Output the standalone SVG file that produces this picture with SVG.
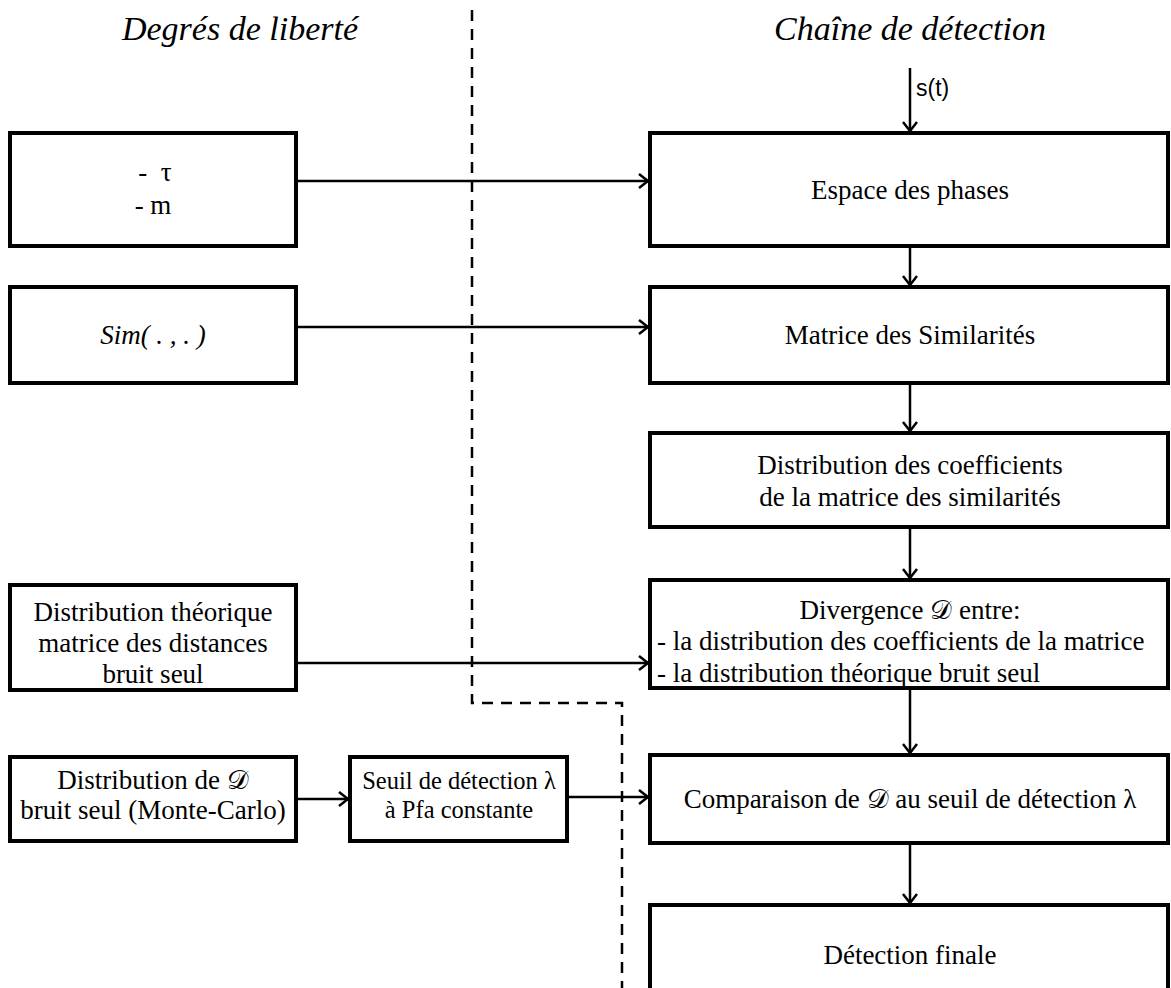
<svg xmlns="http://www.w3.org/2000/svg" width="1171" height="988" viewBox="0 0 1171 988">
<style>
.box{fill:#fff;stroke:#000;stroke-width:4}
.t{font-family:"Liberation Serif","Times New Roman",serif;font-size:27px;fill:#000;text-anchor:middle}
.l{font-family:"Liberation Serif","Times New Roman",serif;font-size:27px;fill:#000;text-anchor:start}
.h{font-family:"Liberation Serif","Times New Roman",serif;font-size:34px;font-style:italic;fill:#000;text-anchor:middle}
.c{fill:none;stroke:#000;stroke-width:2.5}
.dash{fill:none;stroke:#000;stroke-width:2.5;stroke-dasharray:11,8}
.s{font-family:"Liberation Sans",Arial,sans-serif;font-size:23px;fill:#000}
</style>
<defs>
<marker id="arr" markerWidth="12" markerHeight="16" refX="10" refY="8" orient="auto" markerUnits="userSpaceOnUse">
<path d="M1,1 L10,8 L1,15" fill="none" stroke="#000" stroke-width="2.5"/>
</marker>
</defs>
<rect width="1171" height="988" fill="#fff"/>
<text class="h" x="240" y="40">Degrés de liberté</text>
<text class="h" x="910" y="40">Chaîne de détection</text>
<path class="dash" d="M472,10 V703 H622 V988"/>
<g id="connectors">
<line class="c" x1="910" y1="68" x2="910" y2="131" marker-end="url(#arr)"/>
<line class="c" x1="296" y1="181" x2="648" y2="181" marker-end="url(#arr)"/>
<line class="c" x1="910" y1="246" x2="910" y2="285" marker-end="url(#arr)"/>
<line class="c" x1="296" y1="327" x2="648" y2="327" marker-end="url(#arr)"/>
<line class="c" x1="910" y1="383" x2="910" y2="431" marker-end="url(#arr)"/>
<line class="c" x1="910" y1="527" x2="910" y2="578" marker-end="url(#arr)"/>
<line class="c" x1="296" y1="663" x2="648" y2="663" marker-end="url(#arr)"/>
<line class="c" x1="910" y1="688" x2="910" y2="753" marker-end="url(#arr)"/>
<line class="c" x1="296" y1="799" x2="348" y2="799" marker-end="url(#arr)"/>
<line class="c" x1="567" y1="797" x2="648" y2="797" marker-end="url(#arr)"/>
<line class="c" x1="910" y1="843" x2="910" y2="903" marker-end="url(#arr)"/>
<text class="s" x="916" y="96">s(t)</text>
</g>
<g id="n_taum"><rect class="box" x="10" y="133" width="286" height="113"/><text class="t" x="155" y="181">-&#160; τ</text><text class="t" x="153" y="214">- m</text></g>
<g id="n_sim"><rect class="box" x="10" y="287" width="286" height="96"/><text class="t" x="153" y="344" font-style="italic">Sim( . , . )</text></g>
<g id="n_disttheo"><rect class="box" x="10" y="585" width="286" height="105"/><text class="t" x="153" y="621">Distribution théorique</text><text class="t" x="153" y="652">matrice des distances</text><text class="t" x="153" y="683">bruit seul</text></g>
<g id="n_distD"><rect class="box" x="10" y="757" width="286" height="84"/><text class="t" x="153" y="789">Distribution de 𝒟</text><text class="t" x="153" y="819">bruit seul (Monte-Carlo)</text></g>
<g id="n_seuil"><rect class="box" x="350" y="757" width="217" height="84"/><text class="t" x="459" y="789" style="font-size:24.5px">Seuil de détection λ</text><text class="t" x="459" y="818" style="font-size:24.5px">à Pfa constante</text></g>
<g id="n_espace"><rect class="box" x="650" y="133" width="518" height="113"/><text class="t" x="910" y="199">Espace des phases</text></g>
<g id="n_matrice"><rect class="box" x="650" y="287" width="518" height="96"/><text class="t" x="910" y="344">Matrice des Similarités</text></g>
<g id="n_distcoef"><rect class="box" x="650" y="433" width="518" height="94"/><text class="t" x="910" y="474">Distribution des coefficients</text><text class="t" x="910" y="506">de la matrice des similarités</text></g>
<g id="n_div"><rect class="box" x="650" y="580" width="518" height="108"/><text class="t" x="910" y="619">Divergence 𝒟 entre:</text><text class="l" x="657" y="650">- la distribution des coefficients de la matrice</text><text class="l" x="657" y="682">- la distribution théorique bruit seul</text></g>
<g id="n_comp"><rect class="box" x="650" y="755" width="518" height="88"/><text class="t" x="910" y="808">Comparaison de 𝒟 au seuil de détection λ</text></g>
<g id="n_final"><rect class="box" x="650" y="905" width="518" height="100"/><text class="t" x="910" y="964">Détection finale</text></g>
</svg>
